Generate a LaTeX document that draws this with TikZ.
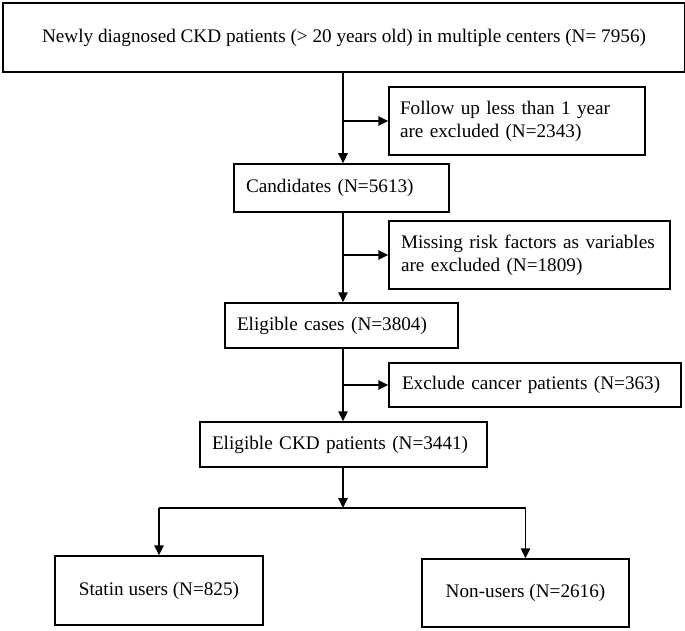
\documentclass[tikz,border=0pt]{standalone}
\usepackage{fontspec}
\setmainfont{Liberation Serif}
\usetikzlibrary{arrows.meta,calc}
\begin{document}
\begin{tikzpicture}[x=1pt,y=-1pt,
  box/.style={draw, line width=1.5pt, inner ysep=0pt, font=\fontsize{19.2}{23}\selectfont},
  lbox/.style={box, align=left},
  cbox/.style={box, align=center},
  arr/.style={line width=1.5pt, -{Triangle[length=10pt,width=9.5pt]}},
  ln/.style={line width=1.5pt}]
\useasboundingbox (0,0) rectangle (685,631);
\node[cbox, minimum width=682pt, minimum height=69pt] (top) at (344,37.5) {Newly diagnosed CKD patients (> 20 years old) in multiple centers (N= 7956)};
\node[lbox, inner xsep=11pt, text width=234pt, minimum height=68pt] (fol) at (517,121) {Follow up less than 1 year\\are excluded (N=2343)};
\node[lbox, inner xsep=12pt, text width=191pt, minimum height=48pt] (cand) at (341.5,188) {Candidates (N=5613)};
\node[lbox, inner xsep=12pt, text width=257pt, minimum height=68pt] (mis) at (529.5,255) {Missing risk factors as variables\\are excluded (N=1809)};
\node[lbox, inner xsep=12pt, text width=209pt, minimum height=45pt] (elig) at (341.5,325.5) {Eligible cases (N=3804)};
\node[lbox, inner xsep=13pt, text width=266pt, minimum height=44pt] (exc) at (535,385) {Exclude cancer patients (N=363)};
\node[lbox, inner xsep=12pt, text width=263pt, minimum height=45pt] (ckd) at (343.5,444.5) {Eligible CKD patients (N=3441)};
\node[cbox, minimum width=208pt, minimum height=69pt] (stat) at (159,590.5) {Statin users (N=825)};
\node[cbox, minimum width=207pt, minimum height=68pt] (non) at (525.5,593) {Non-users (N=2616)};
\coordinate (sp) at (343,0);
\coordinate (br) at (343,508);
\draw[arr] (top.south -| sp) -- (cand.north -| sp);
\draw[arr] (sp |- fol.west) -- (fol.west);
\draw[arr] (cand.south -| sp) -- (elig.north -| sp);
\draw[arr] (sp |- mis.west) -- (mis.west);
\draw[arr] (elig.south -| sp) -- (ckd.north -| sp);
\draw[arr] (sp |- exc.west) -- (exc.west);
\draw[arr] (ckd.south -| sp) -- (br);
\draw[ln] (stat.north |- br) -- (non.north |- br);
\draw[arr] (stat.north |- br) -- (stat.north);
\draw[arr] (non.north |- br) -- (non.north);
\end{tikzpicture}
\end{document}
